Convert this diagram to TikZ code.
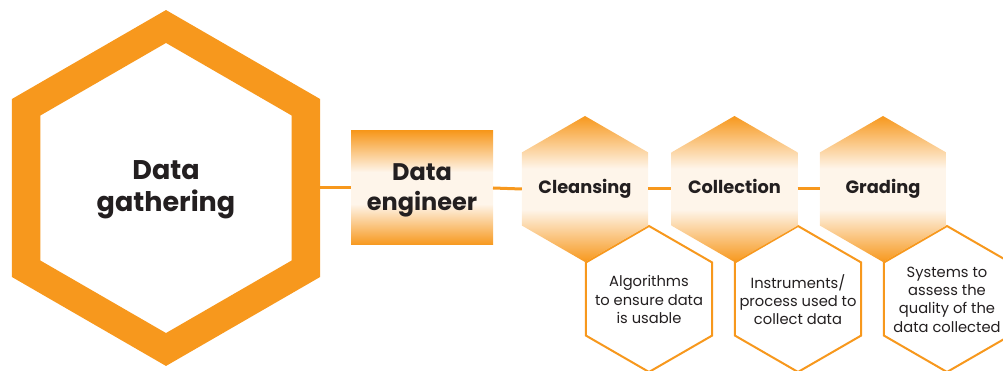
\documentclass[tikz,border=0pt]{standalone}
\usepackage{fontspec}
\setmainfont{Poppins}
\usetikzlibrary{shapes.geometric}
\definecolor{orng}{HTML}{F7981D}
\definecolor{cream}{HTML}{FEF5EA}
\definecolor{ink}{HTML}{231F20}
\pgfdeclareverticalshading{orgrad}{100bp}{color(0bp)=(orng); color(25bp)=(orng); color(43bp)=(cream); color(57bp)=(cream); color(75bp)=(orng); color(100bp)=(orng)}
\tikzset{
  hexa/.style={regular polygon, regular polygon sides=6, shape border rotate=30, inner sep=0pt},
  bighex/.style={hexa, draw=orng, fill=white, line width=28.5pt, line join=miter, minimum size=323pt},
  bigtext/.style={font=\bfseries\fontsize{27}{32}\selectfont, text=ink, align=center, inner sep=0pt},
  grad/.style={shading=orgrad},
  tophex/.style={hexa, grad, draw=none, minimum size=146pt, outer sep=0pt},
  toptext/.style={font=\bfseries\fontsize{17.8}{20}\selectfont, text=ink, inner sep=0pt,
    text height=13pt, text depth=3pt},
  lowhex/.style={hexa, draw=orng, fill=white, line width=2pt, minimum size=146pt},
  lowtext/.style={font=\fontsize{14.7}{18.3}\selectfont, text=ink, align=center, inner sep=0pt},
  engbox/.style={rectangle, grad, draw=none, minimum width=142pt, minimum height=114pt, outer sep=0pt},
  engtext/.style={font=\bfseries\fontsize{24}{30}\selectfont, text=ink, align=center, inner sep=0pt},
  link/.style={draw=orng, line width=3pt}
}
\begin{document}
\begin{tikzpicture}[x=1pt,y=-1pt]
\useasboundingbox (0,0) rectangle (1003,371);
\clip (0,0) rectangle (1003,371);
\node[bighex] (gather) at (166,188) {};
\node[bigtext] (gathert) at (166,190) {Data\\gathering};
\node[engbox] (eng) at (422,188) {};
\node[engtext] (engt) at (422,190) {Data\\engineer};
\node[lowhex] (alg) at (649,299) {};
\node[lowhex] (ins) at (798,299) {};
\node[lowhex] (sys) at (947,299) {};
\node[lowtext] (algt) at (649,299.5) {Algorithms\\to ensure data\\is usable};
\node[lowtext] (inst) at (798,299.5) {Instruments/\\process used to\\collect data};
\node[lowtext] (syst) at (947,299.5) {Systems to\\assess the\\quality of the\\data collected};
\node[tophex] (clean) at (585,189) {};
\node[tophex] (coll) at (734.5,189) {};
\node[tophex] (grad) at (883,189) {};
\node[toptext] (cleant) at (585,189) {Cleansing};
\node[toptext] (collt) at (734.5,189) {Collection};
\node[toptext] (gradt) at (883,189) {Grading};
\draw[link] (gather.east) -- (eng.west);
\draw[link] (eng.east) -- (clean.west);
\draw[link] (clean.east) -- (coll.west);
\draw[link] (coll.east) -- (grad.west);
\end{tikzpicture}
\end{document}
